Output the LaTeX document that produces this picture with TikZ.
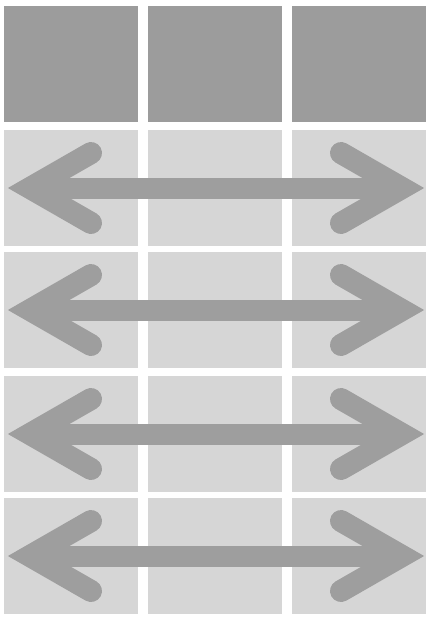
\documentclass[tikz,border=0pt]{standalone}
\definecolor{headcell}{HTML}{9C9C9C}
\definecolor{bodycell}{HTML}{D6D6D6}
\definecolor{arrowgray}{HTML}{9E9E9E}
\tikzset{
    shaft/.style={arrowgray, line width=21pt},
    chevron/.style={arrowgray, line width=22pt, line cap=round, miter limit=10}
}
\begin{document}
\begin{tikzpicture}[x=1pt, y=-1pt]
\useasboundingbox (0,0) rectangle (432,622);
\foreach \x in {4,148,292}
{
    \fill[headcell](\x,6) rectangle +(134,116);
    \foreach \y in {130,252,376,498}
    {
        \fill[bodycell](\x,\y) rectangle +(134,116);
    }
}

\foreach \y in {188,310,434,556}
{
    \coordinate (l) at (30,\y);
    \coordinate (r) at (402,\y);
    \draw[shaft](l)--(r);
    \draw[chevron](91,\y-35)--(l)--(91,\y+35);
    \draw[chevron](341,\y-35)--(r)--(341,\y+35);
}
\end{tikzpicture}
\end{document}
